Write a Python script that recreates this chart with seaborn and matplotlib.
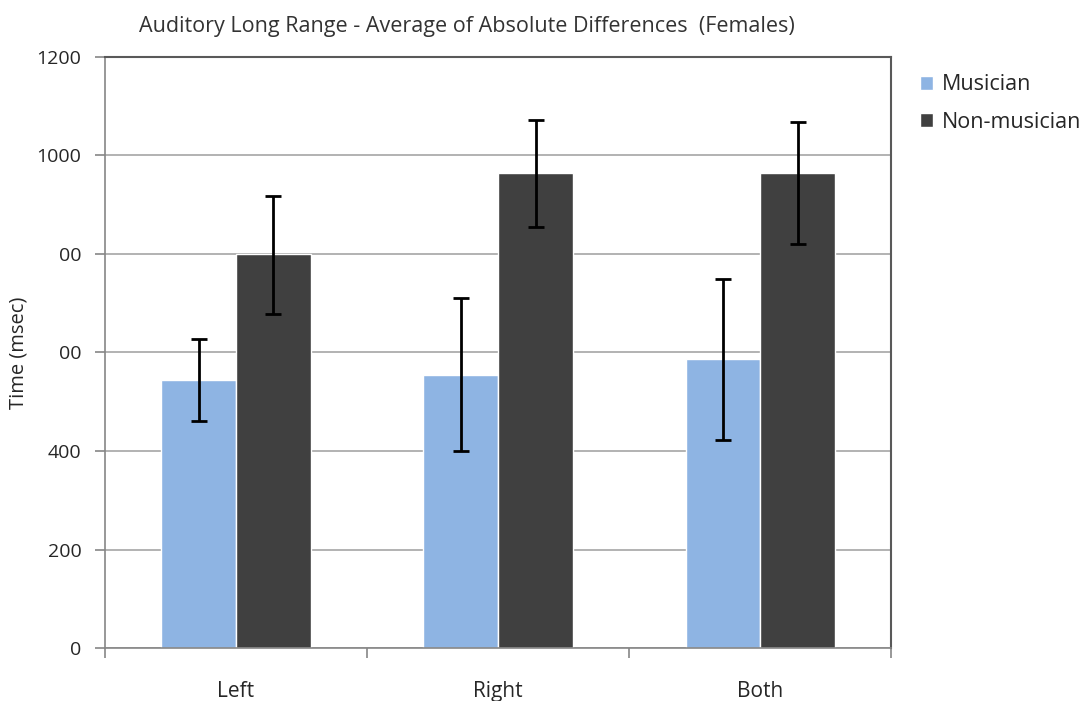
import numpy as np
import pandas as pd
import matplotlib
matplotlib.use("Agg")
import matplotlib.pyplot as plt
from matplotlib.ticker import FixedLocator
import seaborn as sns

# values
sides = ["Left", "Right", "Both"]
groups = ["Musician", "Non-musician"]
musician = [544, 555, 587]
non_musician = [800, 964, 964]
musician_err_low = [83, 155, 165]
musician_err_high = [83, 156, 162]
non_err_low = [122, 109, 144]
non_err_high = [118, 108, 104]
ytick_values = [0, 200, 400, 600, 800, 1000, 1200]
ytick_labels = ["0", "200", "400", "00", "00", "1000", "1200"]

sns.set_theme(style="white")
plt.rcParams["font.family"] = ["Open Sans", "DejaVu Sans"]

df = pd.DataFrame({
    "side": sides * 2,
    "group": [groups[0]] * 3 + [groups[1]] * 3,
    "time": musician + non_musician,
})

fig = plt.figure(figsize=(10.9, 7.01), dpi=100)
ax = fig.add_axes([0.0963, 0.0756, 0.7215, 0.8431])

ax.yaxis.grid(True, color="#a6a6a6", linewidth=1.2)
ax.set_axisbelow(True)

sns.barplot(data=df, x="side", y="time", hue="group", order=sides,
            hue_order=groups, palette=["#8eb4e3", "#404040"],
            width=0.57, errorbar=None, saturation=1, ax=ax)

# error bars placed on the library's bar positions
err_low = musician_err_low + non_err_low
err_high = musician_err_high + non_err_high
bars = [p for p in ax.patches if p.get_height() > 0][:6]
for bar, lo, hi in zip(bars, err_low, err_high):
    cx = bar.get_x() + bar.get_width() / 2
    ax.errorbar(cx, bar.get_height(), yerr=[[lo], [hi]], fmt="none",
                ecolor="black", elinewidth=2, capsize=6, capthick=2, zorder=5)

ax.set_xlim(-0.5, 2.5)
ax.set_ylim(0, 1200)
ax.yaxis.set_major_locator(FixedLocator(ytick_values))
ax.set_yticklabels(ytick_labels)
ax.xaxis.set_minor_locator(FixedLocator([-0.5, 0.5, 1.5, 2.5]))
ax.tick_params(axis="x", which="major", length=0, pad=24, labelsize=15)
ax.tick_params(axis="x", which="minor", length=7, color="#868686", width=1.2,
               direction="out", bottom=True)
ax.tick_params(axis="y", length=7, color="#868686", width=1.2, direction="out",
               left=True, labelsize=14, pad=10)

for s in ["left", "bottom"]:
    ax.spines[s].set_color("#868686")
    ax.spines[s].set_linewidth(1.2)
for s in ["top", "right"]:
    ax.spines[s].set_color("#595959")
    ax.spines[s].set_linewidth(1.5)

ax.set_xlabel("")
ax.set_ylabel("Time (msec)", fontsize=14.5, labelpad=6)
ax.set_title("Auditory Long Range - Average of Absolute Differences  (Females)",
             fontsize=15.5, color="#333333", pad=18, x=0.46)

handles, labels = ax.get_legend_handles_labels()
ax.legend(handles, labels, loc="upper left", bbox_to_anchor=(1.025, 0.985),
          frameon=False, fontsize=15.5, handlelength=0.6, handleheight=0.6,
          handletextpad=0.45, labelspacing=0.75, borderaxespad=0)

fig.savefig("out.png", dpi=100, facecolor="white")
